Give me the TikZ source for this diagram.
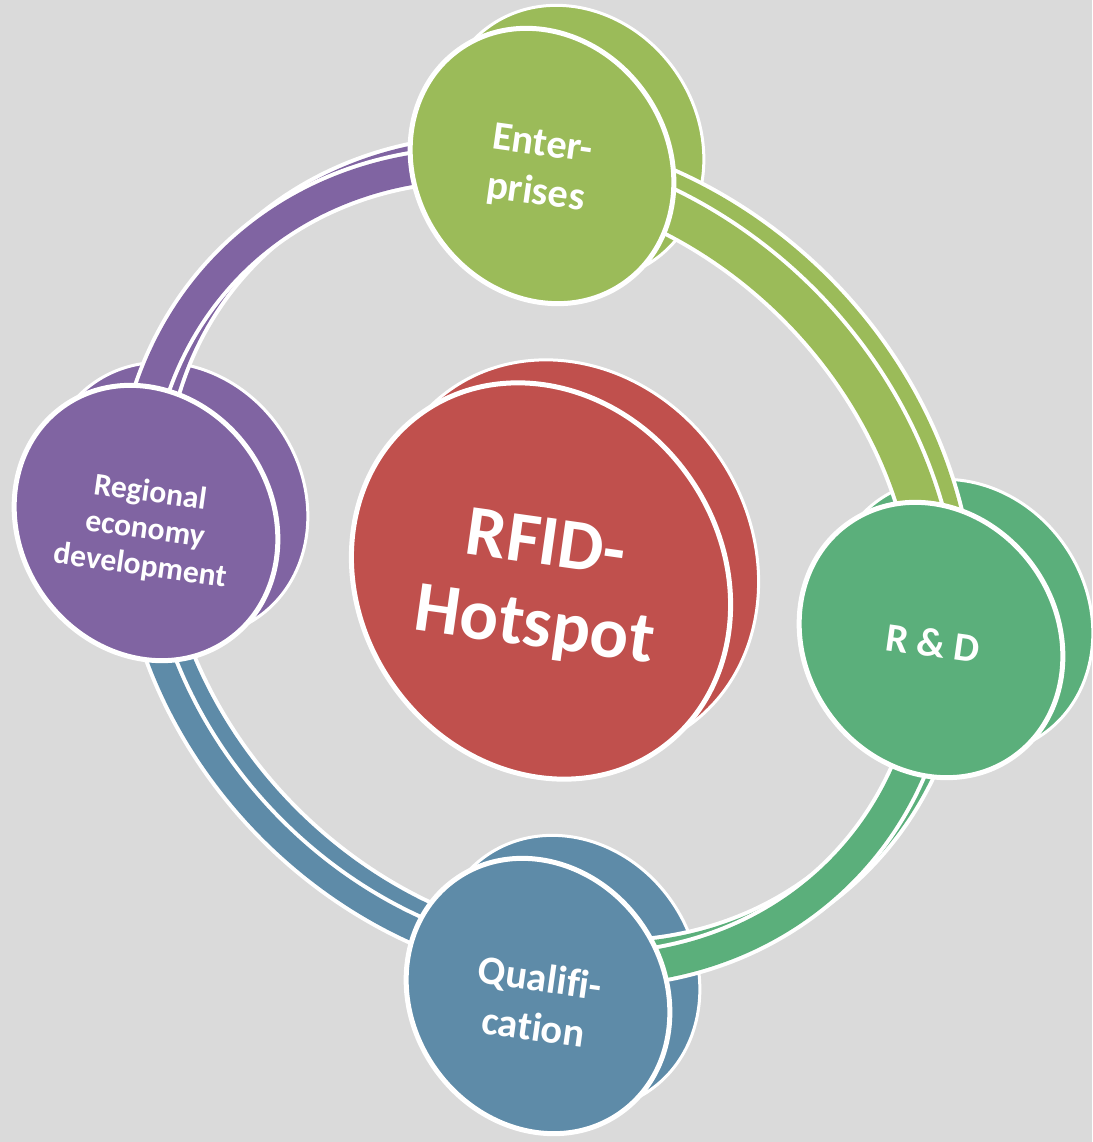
\documentclass[tikz,border=0pt]{standalone}
\usepackage{fontspec}
\setmainfont{Carlito}[Ligatures=NoCommon]
\usetikzlibrary{shapes.geometric}

\definecolor{bggray}{HTML}{DADADA}
\definecolor{entgreen}{HTML}{9BBB59}
\definecolor{regpurple}{HTML}{8064A2}
\definecolor{rdgreen}{HTML}{5BAF7B}
\definecolor{qualblue}{HTML}{5E8BA8}
\definecolor{hotred}{HTML}{C0504D}

\begin{document}
\begin{tikzpicture}[x=0.2mm, y=0.2mm,
    disk/.style = {ellipse, draw=white, line width=1mm, inner sep=0pt, rotate=-55},
    backdisk/.style = {disk, line width=0.6mm},
    small/.style = {minimum width=57.2mm, minimum height=50.4mm},
    big/.style = {minimum width=82.4mm, minimum height=72.4mm},
    disktext/.style = {text=white, align=center, rotate=-8},
    band/.style = {draw=white, line width=0.8mm, double distance=#1}]

    \fill[bggray] (0,0) rectangle (1092,-1142);
    \useasboundingbox (0,0) rectangle (1092,-1142);

    % back faces of the disks
    \node[backdisk, small, fill=entgreen] (ent-b) at (572,-143) {};
    \node[backdisk, small, fill=regpurple] (reg-b) at (176,-500) {};
    \node[backdisk, small, fill=rdgreen] (rd-b) at (961,-617) {};
    \node[backdisk, small, fill=qualblue] (qual-b) at (568,-973) {};
    \node[backdisk, big, fill=hotred] (hot-b) at (569,-558) {};

    % ring, back face then front face
    \foreach \sx/\sy in {15/12, 0/0} {
    \begin{scope}[shift={(535+\sx,-567+\sy)}, rotate=-45]
        \coordinate (r-reg) at (222.7:431 and 372);
        \coordinate (r-ent) at (129.8:431 and 372);
        \coordinate (r-rd) at (38.6:431 and 372);
        \coordinate (r-qual) at (-48.8:431 and 372);
        \draw[band=6mm, double=regpurple] (r-reg) arc[start angle=222.7, end angle=129.8, x radius=431, y radius=372];
        \draw[band=8mm, double=entgreen] (r-ent) arc[start angle=129.8, end angle=38.6, x radius=431, y radius=372];
        \draw[band=6mm, double=rdgreen] (r-rd) arc[start angle=38.6, end angle=-48.8, x radius=431, y radius=372];
        \draw[band=4.8mm, double=qualblue] (r-qual) arc[start angle=-48.8, end angle=-137.3, x radius=431, y radius=372];
    \end{scope}
    }

    % front faces
    \node[disk, small, fill=entgreen] (ent) at (542,-166) {};
    \node[disk, small, fill=regpurple] (reg) at (146,-523) {};
    \node[disk, small, fill=rdgreen] (rd) at (931,-640) {};
    \node[disk, small, fill=qualblue] (qual) at (538,-996) {};
    \node[disk, big, fill=hotred] (hot) at (541,-581) {};

    \node[disktext, font=\bfseries\fontsize{23}{28}\selectfont] (ent-t) at (539,-170) {Enter-\\prises};
    \node[disktext, font=\bfseries\fontsize{18}{21}\selectfont] (reg-t) at (145,-530) {Regional\\economy\\development};
    \node[disktext, font=\bfseries\fontsize{23}{28}\selectfont] (rd-t) at (933,-643) {R \& D};
    \node[disktext, font=\bfseries\fontsize{23}{28}\selectfont] (qual-t) at (537,-1002) {Qualifi-\\cation};
    \node[disktext, font=\bfseries\fontsize{41}{47}\selectfont] (hot-t) at (540,-588) {RFID-\\Hotspot};
\end{tikzpicture}
\end{document}
